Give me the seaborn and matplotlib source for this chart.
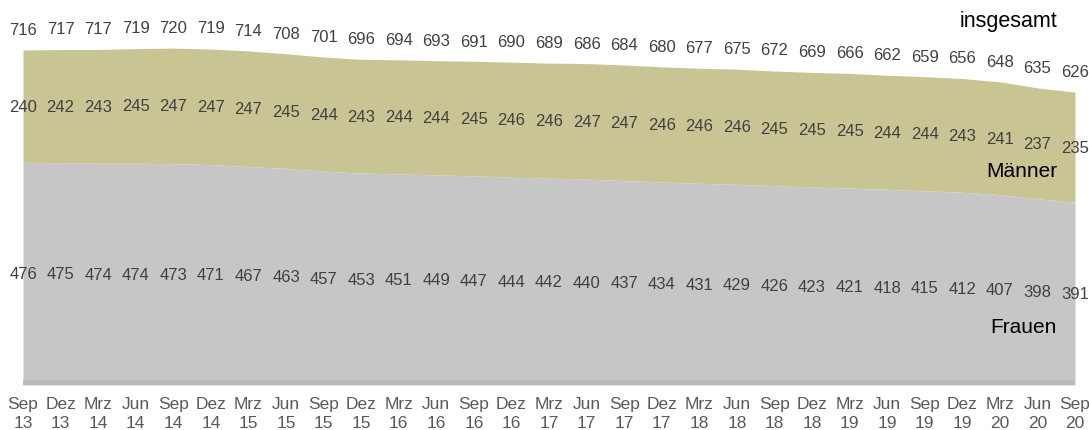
import matplotlib
matplotlib.use("Agg")
import matplotlib.pyplot as plt
import seaborn as sns
import numpy as np
import pandas as pd

# Quarterly labels (month / two-digit year)
months = ["Sep", "Dez", "Mrz", "Jun"] * 8
years = ["13", "13", "14", "14", "14", "14", "15", "15", "15", "15",
         "16", "16", "16", "16", "17", "17", "17", "17", "18", "18",
         "18", "18", "19", "19", "19", "19", "20", "20", "20"]
months = months[:len(years)]
tick_labels = [f"{m}\n{y}" for m, y in zip(months, years)]

insgesamt = [716, 717, 717, 719, 720, 719, 714, 708, 701, 696, 694, 693, 691, 690, 689,
             686, 684, 680, 677, 675, 672, 669, 666, 662, 659, 656, 648, 635, 626]
maenner = [240, 242, 243, 245, 247, 247, 247, 245, 244, 243, 244, 244, 245, 246, 246,
           247, 247, 246, 246, 246, 245, 245, 245, 244, 244, 243, 241, 237, 235]
frauen = [476, 475, 474, 474, 473, 471, 467, 463, 457, 453, 451, 449, 447, 444, 442,
          440, 437, 434, 431, 429, 426, 423, 421, 418, 415, 412, 407, 398, 391]

df = pd.DataFrame({"quartal": tick_labels, "Frauen": frauen, "Männer": maenner,
                   "insgesamt": insgesamt})
df["pos"] = np.arange(len(df))

sns.set_theme(style="white")
plt.rcParams["font.family"] = ["Liberation Sans", "DejaVu Sans"]

OLIVE = "#C9C493"
GREY = "#C6C6C6"
NUM = "#404040"

fig = plt.figure(figsize=(10.89, 4.31), dpi=100)
ax = fig.add_axes([0, 45 / 431, 1, 386 / 431])

ax.stackplot(df["pos"], df["Frauen"], df["Männer"], colors=[GREY, OLIVE],
             linewidth=0)
# darker baseline under the areas
ax.hlines(0, df["pos"].iloc[0], df["pos"].iloc[-1], colors="#BBBBBB",
          linewidth=7, clip_on=True)

for _, r in df.iterrows():
    ax.text(r["pos"], r["insgesamt"] + 44, f"{r['insgesamt']}", ha="center",
            va="center", fontsize=12, color=NUM)
    ax.text(r["pos"], r["Frauen"] + r["Männer"] / 2, f"{r['Männer']}", ha="center",
            va="center", fontsize=12, color=NUM)
    ax.text(r["pos"], r["Frauen"] / 2, f"{r['Frauen']}", ha="center",
            va="center", fontsize=12, color=NUM)

ax.text(26.22, 780, "insgesamt", ha="center", va="center", fontsize=15.5, color="black")
ax.text(26.59, 459, "Männer", ha="center", va="center", fontsize=15, color="black")
ax.text(26.64, 125, "Frauen", ha="center", va="center", fontsize=15, color="black")

ax.set_xlim(-23 / 37.571, 28 + 14 / 37.571)
ax.set_ylim(0, 386 / 0.4679)
ax.set_xticks(df["pos"])
ax.set_xticklabels(df["quartal"], fontsize=12.5, color="#595959", linespacing=1.3)
ax.tick_params(axis="x", length=0, pad=8)
ax.set_yticks([])
sns.despine(ax=ax, left=True, bottom=True)
ax.set_facecolor("white")

fig.savefig("out.png", dpi=100)
